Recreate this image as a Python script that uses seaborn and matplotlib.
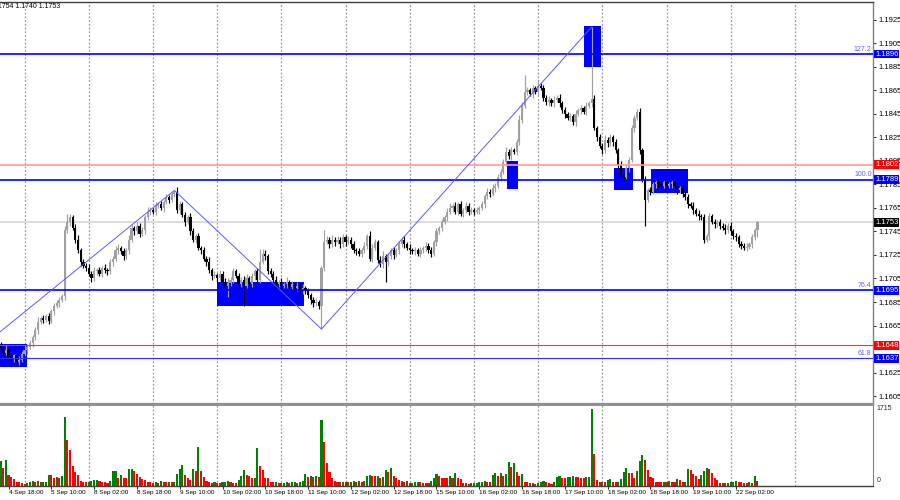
import matplotlib
matplotlib.use("Agg")
import matplotlib.pyplot as plt
import matplotlib.transforms as mtransforms
from matplotlib.patches import Rectangle
import numpy as np
import pandas as pd
import seaborn as sns

# ---------------- data (EURUSD H1) ----------------
first_open = 1.1648
close = [
    1.1646, 1.1642, 1.1644, 1.1639, 1.1637, 1.1640, 1.1634, 1.1636, 1.1641, 1.1644, 1.1647, 1.1650, 1.1655, 1.1661, 1.1668, 1.1671, 1.1670, 1.1673, 1.1669, 1.1677,
    1.1682, 1.1684, 1.1687, 1.1690, 1.1746, 1.1753, 1.1757, 1.1748, 1.1738, 1.1729, 1.1719, 1.1716, 1.1714, 1.1709, 1.1705, 1.1711, 1.1712, 1.1709, 1.1714, 1.1712,
    1.1711, 1.1719, 1.1722, 1.1729, 1.1731, 1.1728, 1.1724, 1.1729, 1.1738, 1.1748, 1.1745, 1.1750, 1.1743, 1.1746, 1.1757, 1.1762, 1.1763, 1.1762, 1.1767, 1.1768,
    1.1765, 1.1770, 1.1774, 1.1772, 1.1777, 1.1779, 1.1763, 1.1768, 1.1759, 1.1753, 1.1757, 1.1745, 1.1738, 1.1741, 1.1731, 1.1729, 1.1722, 1.1719, 1.1712, 1.1707,
    1.1708, 1.1705, 1.1709, 1.1702, 1.1699, 1.1701, 1.1704, 1.1711, 1.1707, 1.1700, 1.1704, 1.1699, 1.1705, 1.1700, 1.1707, 1.1711, 1.1704, 1.1719, 1.1726, 1.1724,
    1.1711, 1.1709, 1.1704, 1.1700, 1.1702, 1.1699, 1.1700, 1.1702, 1.1698, 1.1700, 1.1697, 1.1699, 1.1695, 1.1697, 1.1694, 1.1691, 1.1687, 1.1684, 1.1685, 1.1682,
    1.1714, 1.1736, 1.1738, 1.1734, 1.1738, 1.1736, 1.1738, 1.1734, 1.1740, 1.1736, 1.1738, 1.1734, 1.1729, 1.1728, 1.1726, 1.1729, 1.1733, 1.1741, 1.1722, 1.1731,
    1.1736, 1.1721, 1.1717, 1.1724, 1.1719, 1.1724, 1.1729, 1.1725, 1.1729, 1.1734, 1.1738, 1.1734, 1.1731, 1.1729, 1.1728, 1.1729, 1.1726, 1.1729, 1.1731, 1.1733,
    1.1729, 1.1726, 1.1736, 1.1745, 1.1748, 1.1753, 1.1757, 1.1762, 1.1765, 1.1767, 1.1762, 1.1768, 1.1760, 1.1763, 1.1767, 1.1762, 1.1763, 1.1762, 1.1763, 1.1765,
    1.1768, 1.1775, 1.1779, 1.1777, 1.1782, 1.1784, 1.1791, 1.1796, 1.1804, 1.1813, 1.1809, 1.1814, 1.1813, 1.1821, 1.1840, 1.1852, 1.1864, 1.1865, 1.1862, 1.1867,
    1.1864, 1.1869, 1.1867, 1.1859, 1.1855, 1.1857, 1.1854, 1.1857, 1.1859, 1.1854, 1.1848, 1.1845, 1.1842, 1.1843, 1.1838, 1.1845, 1.1848, 1.1850, 1.1847, 1.1852,
    1.1854, 1.1858, 1.1833, 1.1825, 1.1818, 1.1814, 1.1823, 1.1820, 1.1825, 1.1821, 1.1814, 1.1802, 1.1793, 1.1791, 1.1799, 1.1806, 1.1833, 1.1842, 1.1847, 1.1814,
    1.1789, 1.1772, 1.1780, 1.1779, 1.1785, 1.1787, 1.1785, 1.1784, 1.1787, 1.1784, 1.1785, 1.1787, 1.1784, 1.1780, 1.1782, 1.1777, 1.1774, 1.1768, 1.1767, 1.1763,
    1.1760, 1.1758, 1.1757, 1.1738, 1.1741, 1.1758, 1.1753, 1.1751, 1.1753, 1.1750, 1.1748, 1.1746, 1.1750, 1.1745, 1.1741, 1.1740, 1.1734, 1.1733, 1.1731, 1.1732,
    1.1734, 1.1740, 1.1746, 1.1753,
]
upper_wick_pips = [
    3, 2, 4, 2, 3, 1, 2, 3, 2, 4, 2, 3, 2, 3, 4, 2, 3, 2, 3, 2,
    2, 3, 2, 2, 4, 7, 3, 2, 3, 4, 2, 3, 2, 3, 2, 4, 2, 3, 2, 3,
    2, 3, 2, 4, 3, 2, 3, 2, 4, 3, 2, 3, 2, 3, 2, 4, 3, 2, 3, 2,
    3, 2, 3, 2, 2, 1, 4, 3, 2, 3, 2, 4, 3, 2, 3, 2, 3, 2, 4, 2,
    3, 2, 3, 2, 3, 4, 2, 3, 2, 3, 2, 3, 4, 2, 3, 2, 3, 11, 4, 3,
    2, 3, 2, 3, 2, 3, 2, 4, 2, 3, 2, 3, 2, 3, 2, 3, 2, 2, 3, 2,
    2, 10, 3, 2, 4, 2, 3, 2, 3, 2, 3, 2, 3, 2, 3, 2, 3, 2, 4, 3,
    3, 2, 3, 4, 2, 3, 2, 3, 2, 3, 2, 3, 2, 3, 2, 3, 2, 3, 2, 3,
    2, 3, 2, 3, 2, 3, 2, 3, 4, 2, 3, 2, 3, 2, 3, 2, 3, 2, 3, 2,
    3, 2, 3, 2, 3, 2, 3, 2, 3, 4, 2, 3, 2, 3, 4, 3, 14, 3, 2, 3,
    2, 5, 2, 3, 2, 3, 2, 3, 2, 3, 2, 3, 2, 3, 2, 3, 2, 3, 2, 3,
    2, 61, 3, 2, 3, 2, 4, 2, 3, 2, 3, 2, 3, 2, 3, 2, 3, 2, 2, 3,
    2, 3, 2, 3, 2, 3, 2, 3, 2, 3, 2, 3, 2, 3, 2, 3, 2, 3, 2, 3,
    2, 3, 2, 3, 2, 3, 2, 3, 2, 3, 2, 3, 2, 3, 2, 3, 2, 3, 2, 3,
    2, 3, 2, 1,
]
lower_wick_pips = [
    2, 3, 2, 3, 2, 3, 2, 3, 2, 2, 3, 2, 3, 2, 3, 2, 3, 2, 3, 2,
    3, 2, 3, 2, 3, 2, 3, 2, 3, 2, 3, 2, 3, 2, 3, 2, 3, 2, 3, 2,
    3, 2, 3, 2, 3, 2, 3, 2, 3, 2, 3, 2, 3, 2, 3, 2, 3, 2, 3, 2,
    2, 3, 2, 3, 2, 3, 2, 3, 2, 3, 2, 3, 2, 3, 2, 3, 2, 3, 2, 3,
    2, 3, 2, 3, 2, 10, 2, 3, 2, 3, 2, 17, 2, 3, 2, 3, 2, 3, 2, 3,
    2, 3, 2, 3, 2, 3, 2, 3, 2, 3, 2, 3, 2, 3, 2, 3, 4, 3, 2, 3,
    20, 3, 2, 3, 2, 3, 2, 3, 2, 3, 2, 3, 2, 3, 2, 3, 2, 3, 2, 3,
    2, 3, 2, 3, 17, 3, 2, 3, 2, 3, 2, 3, 2, 3, 2, 3, 2, 3, 2, 3,
    2, 3, 2, 3, 2, 3, 2, 3, 2, 3, 2, 3, 2, 3, 2, 3, 2, 3, 2, 3,
    2, 3, 2, 3, 2, 3, 2, 3, 2, 3, 2, 3, 2, 3, 2, 3, 2, 3, 2, 3,
    2, 3, 2, 3, 2, 3, 2, 3, 2, 3, 2, 3, 2, 3, 2, 3, 2, 3, 2, 3,
    2, 3, 2, 3, 2, 3, 2, 3, 2, 3, 2, 3, 2, 3, 2, 3, 2, 3, 2, 3,
    2, 22, 2, 3, 2, 3, 2, 3, 2, 3, 2, 3, 2, 3, 2, 3, 2, 3, 2, 3,
    2, 3, 2, 3, 2, 3, 2, 3, 2, 3, 2, 3, 2, 3, 2, 3, 2, 3, 2, 3,
    2, 3, 2, 6,
]
volume = [
    565, 400, 580, 248, 203, 151, 98, 90, 60, 53, 60, 83, 105, 90, 105, 83, 90, 98, 248, 248,
    173, 203, 173, 218, 1529, 1032, 791, 444, 301, 248, 113, 90, 83, 98, 113, 128, 143, 113, 98, 83,
    68, 113, 324, 330, 173, 248, 188, 173, 377, 380, 324, 264, 203, 158, 128, 98, 83, 68, 90, 68,
    113, 98, 90, 98, 83, 98, 264, 369, 467, 248, 188, 143, 369, 339, 866, 324, 203, 113, 83, 68,
    83, 68, 60, 83, 98, 120, 98, 75, 60, 128, 233, 354, 248, 233, 173, 188, 851, 444, 354, 188,
    173, 98, 83, 98, 75, 60, 75, 90, 68, 83, 90, 75, 83, 113, 271, 203, 226, 203, 218, 203,
    1468, 979, 512, 301, 188, 113, 83, 98, 83, 90, 83, 98, 113, 98, 105, 90, 113, 233, 248, 233,
    218, 233, 188, 203, 354, 309, 399, 226, 173, 143, 113, 90, 105, 68, 75, 90, 98, 83, 68, 65,
    60, 113, 188, 264, 218, 188, 180, 173, 226, 188, 286, 188, 158, 75, 68, 53, 60, 68, 75, 83,
    98, 113, 98, 83, 248, 279, 226, 279, 218, 264, 535, 414, 520, 309, 218, 264, 98, 83, 68, 75,
    53, 68, 98, 113, 83, 68, 53, 83, 203, 233, 173, 170, 196, 203, 218, 211, 203, 188, 185, 196,
    198, 1715, 715, 128, 83, 90, 83, 143, 166, 98, 90, 98, 150, 301, 399, 294, 279, 188, 324, 550,
    700, 587, 354, 203, 173, 98, 90, 83, 98, 83, 113, 98, 83, 158, 128, 83, 100, 369, 354, 264,
    226, 158, 248, 339, 399, 384, 279, 173, 128, 68, 65, 75, 68, 83, 98, 113, 98, 90, 68, 65,
    83, 75, 233, 113,
]
date_labels = ["4 Sep 18:00", "5 Sep 10:00", "8 Sep 02:00", "8 Sep 18:00", "9 Sep 10:00",
               "10 Sep 02:00", "10 Sep 18:00", "11 Sep 10:00", "12 Sep 02:00", "12 Sep 18:00",
               "15 Sep 10:00", "16 Sep 02:00", "16 Sep 18:00", "17 Sep 10:00", "18 Sep 02:00",
               "18 Sep 18:00", "19 Sep 10:00", "22 Sep 02:00"]
date_label_bars = [3, 19, 35, 51, 67, 83, 99, 115, 131, 147, 163, 179, 195, 211, 227, 243, 259, 275]
day_grid_bars = [9, 33, 57, 81, 105, 129, 153, 177, 201, 225, 249, 273, 297]
# price scale labels (1.1645 is fully hidden behind the 1.1648 marker in the reference)
price_ticks = [1.1605, 1.1625, 1.1665, 1.1685, 1.1705, 1.1725, 1.1745, 1.1765,
               1.1785, 1.1805, 1.1825, 1.1845, 1.1865, 1.1885, 1.1905, 1.1925]
level_prices = [1.1896, 1.1802, 1.1789, 1.1695, 1.1648, 1.1637]
level_colors = ["#0000ff", "#ff9a9a", "#0000ff", "#0000ff", "#ff3030", "#3030ff"]
level_widths = [1.2, 1.2, 1.2, 1.2, 0.8, 0.8]
bid_price = 1.1753
fib_names = ["127.2", "100.0", "76.4", "61.8"]
fib_prices = [1.1896, 1.1789, 1.1695, 1.1637]
zone_x0 = [-1.0, 80.9, 189.3, 218.1, 229.3, 243.2]
zone_x1 = [9.9, 113.5, 193.5, 224.5, 236.4, 257.0]
zone_lo = [1.1630, 1.1682, 1.1781, 1.1885, 1.1780, 1.1778]
zone_hi = [1.1649, 1.1702, 1.1805, 1.1920, 1.1799, 1.1798]
zig_bar = [-0.5, 65, 120, 221]
zig_price = [1.1659, 1.1780, 1.1662, 1.1919]
header = "1.1754 1.1740 1.1753"
box_prices = [1.1896, 1.1802, 1.1789, 1.1753, 1.1695, 1.1648, 1.1637]
box_colors = ["#0000ff", "#ff0000", "#0000ff", "#000000", "#0000ff", "#ff0000", "#0000ff"]

# ---------------- style ----------------
sns.set_style("white")
plt.rcParams["font.family"] = ["Liberation Sans", "DejaVu Sans"]

n = len(close)
bars = np.arange(n)
opens = np.array([first_open] + close[:-1])
closes = np.array(close)
highs = np.maximum(opens, closes) + np.array(upper_wick_pips) * 1e-4
lows = np.minimum(opens, closes) - np.array(lower_wick_pips) * 1e-4
bull = closes >= opens
cand_col = np.where(bull, "#a0a0a0", "#000000")

fig = plt.figure(figsize=(9, 5), dpi=100)
ax = fig.add_axes([0, 0.192, 0.97, 0.804])
axv = fig.add_axes([0, 0.028, 0.97, 0.162])

XL = (-0.19, 326.2)

for g in day_grid_bars:
    for a in (ax, axv):
        a.axvline(g, color="#9a9a9a", lw=0.9, ls=(0, (1.5, 1.5)), zorder=0.5)

for x0, x1, lo, hi in zip(zone_x0, zone_x1, zone_lo, zone_hi):
    ax.add_patch(Rectangle((x0, lo), x1 - x0, hi - lo, facecolor="#0000ff",
                           edgecolor="none", zorder=1))

ax.axhline(bid_price, color="#dcdcdc", lw=1.4, zorder=1.5)

ax.vlines(bars, lows, highs, colors=cand_col, lw=0.85, zorder=4)
body_h = np.maximum(np.abs(closes - opens), 0.00005)
ax.bar(bars, body_h, bottom=np.minimum(opens, closes), width=0.82,
       color=cand_col, linewidth=0, zorder=5)

for p, c, w in zip(level_prices, level_colors, level_widths):
    ax.axhline(p, color=c, lw=w, zorder=6)

sns.lineplot(x=zig_bar, y=zig_price, ax=ax, color="#5a5aff", lw=0.7,
             estimator=None, sort=False, zorder=6)

ax.set_xlim(*XL)
ax.set_ylim(1.15982, 1.19403)
ax.set_xticks([])
ax.yaxis.tick_right()
ax.set_yticks(price_ticks)
ax.set_yticklabels([f"{p:.4f}" for p in price_ticks])
ax.tick_params(axis="y", length=2.5, width=0.6, labelsize=5.5, pad=1.2,
               colors="#000000", right=True, left=False)
ax.set_xlabel("")
ax.set_ylabel("")
ax.spines["left"].set_visible(False)
ax.spines["top"].set_color("#404040")
ax.spines["top"].set_linewidth(1.0)
ax.spines["right"].set_color("#808080")
ax.spines["right"].set_linewidth(1.0)
ax.spines["bottom"].set_color("#909090")
ax.spines["bottom"].set_linewidth(1.6)

trans = mtransforms.blended_transform_factory(ax.transAxes, ax.transData)
for name, p in zip(fib_names, fib_prices):
    ax.text(0.9985, p + 0.00012, name, transform=trans, ha="right", va="bottom",
            fontsize=5, color="#6060ff", zorder=8)
for p, c in zip(box_prices, box_colors):
    ax.text(1.0025, p, f"{p:.4f}", transform=trans, ha="left", va="center",
            fontsize=5.5, color="white", clip_on=False, zorder=10,
            bbox=dict(boxstyle="square,pad=0.12", fc=c, ec="none"))

fig.text(-0.009, 0.986, header, fontsize=5, color="#000000", ha="left", va="center")

prev = [volume[0]] + volume[:-1]
vdir = ["up" if (i == 0 or v > pv) else "down" for i, (v, pv) in enumerate(zip(volume, prev))]
dfv = pd.DataFrame({"bar": bars, "volume": volume, "dir": vdir})
sns.barplot(data=dfv, x="bar", y="volume", hue="dir",
            palette={"up": "#008000", "down": "#ff0000"}, native_scale=True,
            dodge=False, width=0.78, saturation=1, legend=False, errorbar=None,
            linewidth=0, ax=axv)
axv.set_xlim(*XL)
axv.set_ylim(0, 1804)
axv.set_yticks([])
axv.set_ylabel("")
axv.set_xlabel("")
axv.set_xticks(date_label_bars)
axv.set_xticklabels(date_labels)
for t in axv.get_xticklabels():
    t.set_ha("left")
axv.tick_params(axis="x", length=2, width=0.6, labelsize=4.6, pad=1, colors="#000000",
                bottom=True)
axv.spines["left"].set_visible(False)
axv.spines["top"].set_color("#909090")
axv.spines["top"].set_linewidth(1.4)
axv.spines["right"].set_color("#808080")
axv.spines["bottom"].set_color("#404040")
axv.spines["bottom"].set_linewidth(1.0)
tv = mtransforms.blended_transform_factory(axv.transAxes, axv.transData)
axv.text(1.004, 1715, "1715", transform=tv, ha="left", va="center", fontsize=5,
         clip_on=False)
axv.text(1.004, 40, "0", transform=tv, ha="left", va="bottom", fontsize=5,
         clip_on=False)

fig.savefig("out.png", dpi=100)
